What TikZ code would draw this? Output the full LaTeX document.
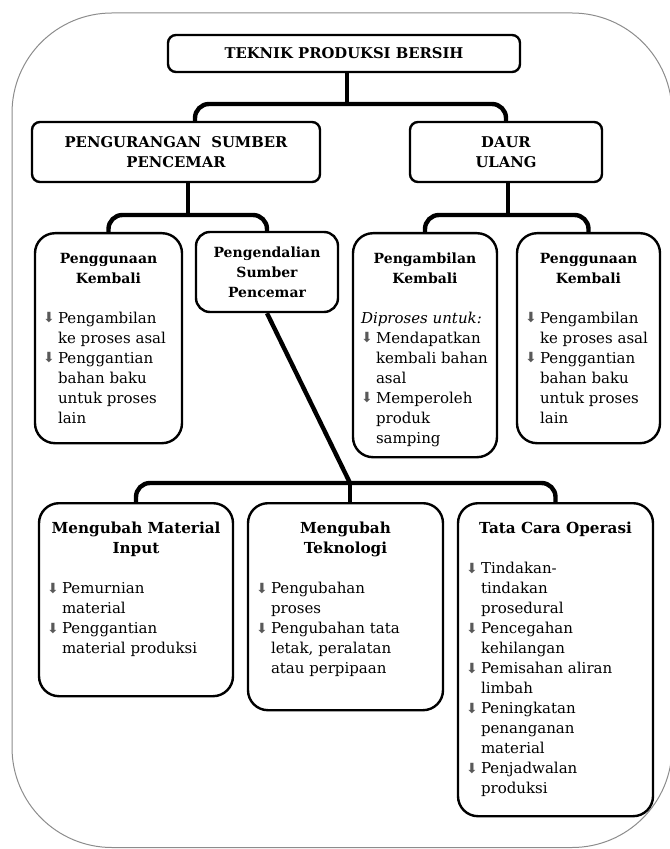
\documentclass[tikz,border=0pt]{standalone}
\usepackage{fontspec}
\setmainfont{DejaVu Serif}
\newfontfamily\symfont{DejaVu Sans}
\usepackage{tikz}
\usetikzlibrary{positioning}

\newcommand{\bul}{\makebox[7.5pt][l]{\raisebox{0.1pt}{\symfont\fontsize{7}{7}\selectfont\color{black!65}⬇}}}
\newcommand{\itm}[1]{\par\leftskip=7.5pt\noindent\llap{\bul}#1}
\newcommand{\cardhead}[2][7.6]{{\centering\fontsize{#1}{10}\selectfont\bfseries\rule{0pt}{15pt}#2\par}\vspace{10pt}}
\newcommand{\cardtext}[3]{\parbox[c][#1][t]{#2}{\raggedright\hyphenpenalty=10000\fontsize{7.5}{10}\selectfont#3}}

\begin{document}
\begin{tikzpicture}[x=0.5pt, y=-0.5pt,
        frame/.style={draw=black!45, line width=0.5pt, rounded corners=50pt},
        topbox/.style={draw, line width=1.2pt, rounded corners=4pt, inner sep=0pt, align=center, font=\fontsize{7.4}{10}\selectfont\bfseries},
        card/.style={draw, line width=1.2pt, rounded corners=10pt, inner xsep=4pt, inner ysep=0pt, anchor=north},
        link/.style={line width=2.2pt, rounded corners=7pt},
    ]
    \useasboundingbox (0,0) rectangle (669,849);
    \draw[frame] (12,13) rectangle (672,847.5);

    % Top level
    \node[topbox, minimum width=176pt, minimum height=18.5pt] (title) at (344,53.5) {TEKNIK PRODUKSI BERSIH};
    \node[topbox, minimum width=144pt, minimum height=30pt] (pengurangan) at (176,152) {PENGURANGAN\ \ SUMBER\\PENCEMAR};
    \node[topbox, minimum width=96pt, minimum height=30pt] (daur) at (506,152) {DAUR\\ULANG};

    % Second level
    \node[card] (reuseA) at (108.5,232) {\cardtext{105pt}{65.5pt}{\cardhead[7]{Penggunaan\\Kembali}\itm{Pengambilan\\ke proses asal}\itm{Penggantian\\bahan baku\\untuk proses\\lain}}};
    \node[topbox, rounded corners=7pt, minimum width=71pt, minimum height=40pt, font=\fontsize{7}{10}\selectfont\bfseries] (control) at (267,272) {Pengendalian\\Sumber\\Pencemar};
    \node[card] (recovery) at (425,232) {\cardtext{112pt}{64pt}{\cardhead[7]{Pengambilan\\Kembali}\noindent\textit{Diproses untuk:}\itm{Mendapatkan\\kembali~bahan\\asal}\itm{Memperoleh\\produk\\samping}}};
    \node[card] (reuseB) at (588.5,232) {\cardtext{105pt}{63.5pt}{\cardhead[7]{Penggunaan\\Kembali}\itm{Pengambilan\\ke~proses~asal}\itm{Penggantian\\bahan baku\\untuk proses\\lain}}};

    % Source control
    \node[card] (material) at (136,502) {\cardtext{96.5pt}{89pt}{\cardhead{Mengubah Material\\Input}\itm{Pemurnian\\material}\itm{Penggantian\\material~produksi}}};
    \node[card] (tech) at (345.5,502) {\cardtext{103.5pt}{89.5pt}{\cardhead{Mengubah\\Teknologi}\itm{Pengubahan\\proses}\itm{Pengubahan~tata\\letak, peralatan\\atau perpipaan}}};
    \node[card] (ops) at (555.5,502) {\cardtext{156.5pt}{89.5pt}{\cardhead{Tata Cara Operasi}\itm{Tindakan-\\tindakan\\prosedural}\itm{Pencegahan\\kehilangan}\itm{Pemisahan~aliran\\limbah}\itm{Peningkatan\\penanganan\\material}\itm{Penjadwalan\\produksi}}};

    % Junctions
    \coordinate (j1) at (347,104);
    \coordinate (j1l) at (195,104);
    \coordinate (j2) at (188,215);
    \coordinate (j3) at (508,215);
    \coordinate (j4) at (350,483);

    % Connectors
    \draw[link] (title.south -| j1) -- (j1);
    \draw[link] (j1l |- pengurangan.north) |- (j1) -| (daur.north);
    \draw[link] (pengurangan.south -| j2) -- (j2);
    \draw[link] (reuseA.north) |- (j2) -| (control.north);
    \draw[link] (daur.south -| j3) -- (j3);
    \draw[link] (recovery.north) |- (j3) -| (reuseB.north);
    \draw[link] (control.south) -- (j4);
    \draw[link] (j4) -- (tech.north -| j4);
    \draw[link] (material.north) |- (j4) -| (ops.north);
\end{tikzpicture}
\end{document}
